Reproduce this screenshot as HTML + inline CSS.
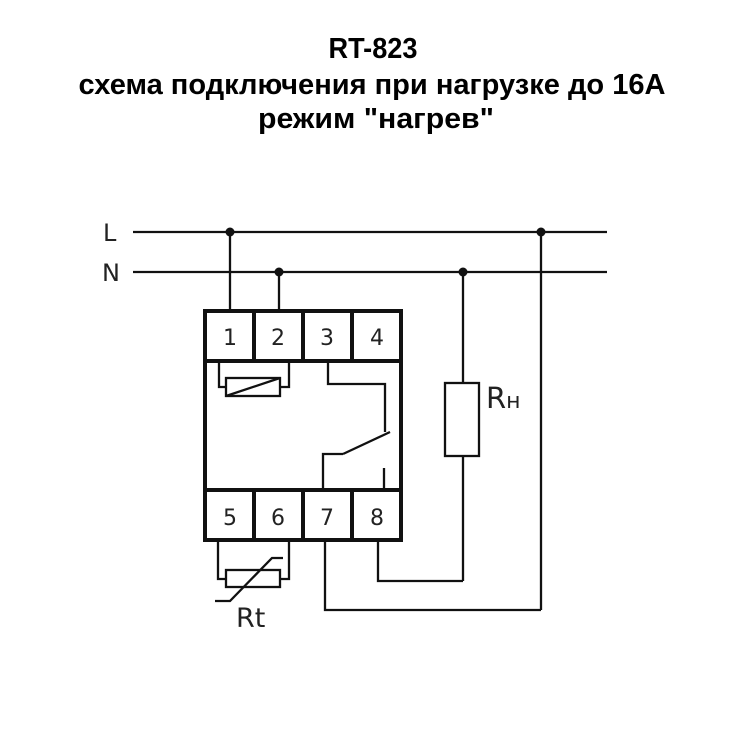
<!DOCTYPE html>
<html><head><meta charset="utf-8"><style>
html,body{margin:0;padding:0;background:#fff;width:750px;height:750px;overflow:hidden}
</style></head><body>
<svg width="750" height="750" viewBox="0 0 750 750" xmlns="http://www.w3.org/2000/svg">
<g font-family="Liberation Sans, DejaVu Sans, sans-serif" font-weight="bold" font-size="29" text-anchor="middle" fill="#000">
<text x="373" y="58" textLength="89" lengthAdjust="spacingAndGlyphs">RT-823</text>
<text x="372" y="94" textLength="587" lengthAdjust="spacingAndGlyphs">схема подключения при нагрузке до 16А</text>
<text x="376" y="128" textLength="236" lengthAdjust="spacingAndGlyphs">режим "нагрев"</text>
</g>
<g font-family="DejaVu Sans, Liberation Sans, sans-serif" font-size="24" fill="#222">
<text x="103" y="241">L</text>
<text x="102" y="281">N</text>
</g>
<g stroke="#111" stroke-width="2.3" fill="none">
<line x1="133" y1="232" x2="607" y2="232"/>
<line x1="133" y1="272" x2="607" y2="272"/>
<line x1="230" y1="232" x2="230" y2="311"/>
<line x1="279" y1="272" x2="279" y2="311"/>
<line x1="463" y1="272" x2="463" y2="383"/>
<rect x="445" y="383" width="34" height="73"/>
<line x1="463" y1="456" x2="463" y2="581"/>
<polyline points="378,542 378,581 463,581"/>
<line x1="541" y1="232" x2="541" y2="610"/>
<polyline points="325,542 325,610 541,610"/>
<polyline points="226,387 219,387 219,361"/>
<polyline points="280,387 289,387 289,361"/>
<rect x="226" y="378" width="54" height="18"/>
<line x1="226" y1="396" x2="280" y2="378"/>
<polyline points="328,361 328,384 385,384 385,432"/>
<line x1="343" y1="454" x2="390" y2="432"/>
<polyline points="323,490 323,454 343,454"/>
<line x1="384" y1="490" x2="384" y2="468"/>
<polyline points="218,542 218,579 226,579"/>
<polyline points="289,542 289,579 280,579"/>
<rect x="226" y="570" width="54" height="17"/>
<polyline points="215,601 230,601 272,558 283,558"/>
</g>
<g fill="#111">
<circle cx="230" cy="232" r="4.5"/>
<circle cx="279" cy="272" r="4.5"/>
<circle cx="463" cy="272" r="4.5"/>
<circle cx="541" cy="232" r="4.5"/>
</g>
<g stroke="#111" stroke-width="4" fill="none">
<rect x="205" y="311" width="196" height="229"/>
<line x1="205" y1="361" x2="401" y2="361"/>
<line x1="205" y1="490" x2="401" y2="490"/>
<line x1="254" y1="311" x2="254" y2="361"/>
<line x1="303" y1="311" x2="303" y2="361"/>
<line x1="352" y1="311" x2="352" y2="361"/>
<line x1="254" y1="490" x2="254" y2="540"/>
<line x1="303" y1="490" x2="303" y2="540"/>
<line x1="352" y1="490" x2="352" y2="540"/>
</g>
<g font-family="DejaVu Sans, Liberation Sans, sans-serif" font-size="22" fill="#222" text-anchor="middle">
<text x="230" y="345">1</text>
<text x="278" y="345">2</text>
<text x="327" y="345">3</text>
<text x="377" y="345">4</text>
<text x="230" y="525">5</text>
<text x="278" y="525">6</text>
<text x="327" y="525">7</text>
<text x="377" y="525">8</text>
</g>
<g font-family="DejaVu Sans, Liberation Sans, sans-serif" fill="#222">
<text x="486" y="408" font-size="29">R<tspan font-size="22">н</tspan></text>
<text x="236" y="627" font-size="27">Rt</text>
</g>
</svg>
</body></html>
